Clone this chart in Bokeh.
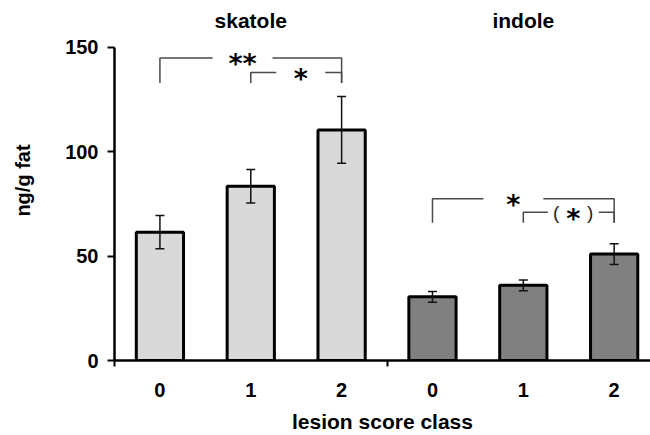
from bokeh.plotting import figure
from bokeh.models import ColumnDataSource, FixedTicker, Whisker, TeeHead, Range1d
from bokeh.core.properties import value
from bokeh.embed import file_html
from bokeh.resources import INLINE

# --- data -------------------------------------------------------------
compounds = ["skatole", "indole"]
score_classes = ["0", "1", "2"]

skatole_mean = [61.5, 83.5, 110.5]
skatole_sem = [8.0, 8.0, 16.0]
indole_mean = [30.5, 36.0, 51.0]
indole_sem = [2.6, 2.6, 5.0]

# significance brackets: bar indices (0-5), bracket top, leg foot, marker
bracket_left = [0, 1, 3, 4]
bracket_right = [2, 2, 5, 5]
bracket_top = [145.0, 138.0, 77.5, 71.0]
bracket_foot = [133.0, 133.0, 66.0, 66.0]
bracket_label = ["**", "*", "*", "(*)"]

y_ticks = [0, 50, 100, 150]

# --- layout helpers -----------------------------------------------------
FONT = "Liberation Sans"
n_cls = len(score_classes)
positions = [g * n_cls + i for g in range(len(compounds)) for i in range(n_cls)]
means = skatole_mean + indole_mean
sems = skatole_sem + indole_sem
fills = ["#d9d9d9"] * n_cls + ["#808080"] * n_cls

bars = ColumnDataSource(dict(
    x=positions,
    top=means,
    upper=[m + s for m, s in zip(means, sems)],
    lower=[m - s for m, s in zip(means, sems)],
    fill=fills,
))

p = figure(
    width=650, height=435,
    x_range=Range1d(-0.5, 5.4), y_range=Range1d(0, 172.5),
    output_backend="svg", toolbar_location=None,
    min_border_left=114, min_border_right=0,
    min_border_top=0, min_border_bottom=73,
)
p.outline_line_color = None
p.xgrid.visible = False
p.ygrid.visible = False
p.background_fill_color = "white"
p.border_fill_color = "white"

p.vbar(x="x", top="top", width=0.52, source=bars,
       fill_color="fill", line_color="black", line_width=3)

p.add_layout(Whisker(
    source=bars, base="x", upper="upper", lower="lower",
    line_color="#111111", line_width=1.5, level="overlay",
    upper_head=TeeHead(size=9, line_color="#111111", line_width=1.5),
    lower_head=TeeHead(size=9, line_color="#111111", line_width=1.5),
))

# brackets with a gap in the top line for the marker
gap_center = [0.91, 1.55, 3.89, 4.55]
gap_half = [0.33, 0.27, 0.33, 0.28]
xs, ys = [], []
for l, r, top, foot, gc, gh in zip(bracket_left, bracket_right, bracket_top,
                                    bracket_foot, gap_center, gap_half):
    xs.append([l, l, gc - gh]); ys.append([foot, top, top])
    xs.append([gc + gh, r, r]); ys.append([top, top, foot])
p.multi_line(xs, ys, line_color="#4a4a4a", line_width=1.5)

# stars in bold; a bracketed marker gets thin parentheses around its star
stars = [lab.strip("()") for lab in bracket_label]
p.text(x=gap_center, y=bracket_top, text=stars,
       text_font=value("DejaVu Sans"), text_font_style="bold",
       text_font_size="27px", text_align="center", text_baseline="middle",
       y_offset=6, text_color="black")
paren_x, paren_y, paren_t, paren_dx = [], [], [], []
for lab, gc, top in zip(bracket_label, gap_center, bracket_top):
    if lab.startswith("("):
        paren_x += [gc, gc]; paren_y += [top, top]
        paren_t += ["(", ")"]; paren_dx += [-17, 17]
p.text(x=paren_x, y=paren_y, text=paren_t, x_offset=paren_dx,
       text_font=value(FONT), text_font_size="19px",
       text_align="center", text_baseline="middle", text_color="#222222")

# compound titles over the middle bar of each group
title_x = [g * n_cls + (n_cls - 1) / 2 for g in range(len(compounds))]
p.text(x=title_x, y=[163, 163], text=compounds,
       text_font=value(FONT), text_font_style="bold", text_font_size="21px",
       text_align="center", text_baseline="middle", text_color="black")

# axes
ya = p.yaxis[0]
ya.ticker = FixedTicker(ticks=y_ticks)
ya.bounds = (0, 150)
ya.axis_line_color = "black"
ya.axis_line_width = 2.5
ya.major_tick_line_color = "black"
ya.major_tick_line_width = 2
ya.major_tick_out = 7
ya.major_tick_in = 0
ya.minor_tick_line_color = None
ya.major_label_text_font = FONT
ya.major_label_text_font_style = "bold"
ya.major_label_text_font_size = "20px"
ya.major_label_text_color = "black"
ya.major_label_standoff = 9
ya.axis_label = "ng/g fat"
ya.axis_label_text_font = FONT
ya.axis_label_text_font_style = "bold"
ya.axis_label_text_font_size = "20px"
ya.axis_label_text_color = "black"
ya.axis_label_standoff = 28

xa = p.xaxis[0]
xa.ticker = FixedTicker(ticks=positions, minor_ticks=[-0.5, 2.5, 5.5])
xa.major_label_overrides = {pos: score_classes[i % n_cls] for i, pos in enumerate(positions)}
xa.axis_line_color = "black"
xa.axis_line_width = 2.5
xa.major_tick_line_color = None
xa.minor_tick_line_color = "black"
xa.minor_tick_line_width = 2
xa.minor_tick_out = 6
xa.minor_tick_in = 0
xa.major_label_text_font = FONT
xa.major_label_text_font_style = "bold"
xa.major_label_text_font_size = "20px"
xa.major_label_text_color = "black"
xa.major_label_standoff = 16
xa.axis_label = "lesion score class"
xa.axis_label_text_font = FONT
xa.axis_label_text_font_style = "bold"
xa.axis_label_text_font_size = "21px"
xa.axis_label_text_color = "black"
xa.axis_label_standoff = 10

open("out.html", "w").write(file_html(p, INLINE))
